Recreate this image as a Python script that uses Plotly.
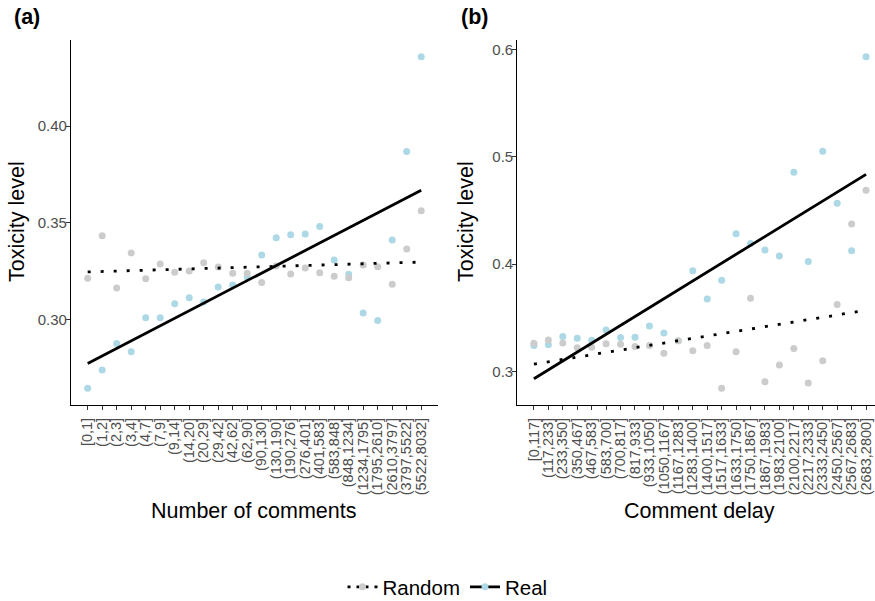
import plotly.graph_objects as go

# ---------------- data ----------------
cats_a = ["[0,1]", "(1,2]", "(2,3]", "(3,4]", "(4,7]", "(7,9]", "(9,14]", "(14,20]",
          "(20,29]", "(29,42]", "(42,62]", "(62,90]", "(90,130]", "(130,190]", "(190,276]",
          "(276,401]", "(401,583]", "(583,848]", "(848,1234]", "(1234,1795]", "(1795,2610]",
          "(2610,3797]", "(3797,5522]", "(5522,8032]"]
real_a = [0.2644, 0.2739, 0.2876, 0.2833, 0.3009, 0.3009, 0.3081, 0.3112, 0.3091, 0.3168,
          0.3179, 0.3220, 0.3333, 0.3423, 0.3438, 0.3442, 0.3481, 0.3308, 0.3234, 0.3033,
          0.2995, 0.3411, 0.3868, 0.4359]
random_a = [0.3213, 0.3433, 0.3163, 0.3344, 0.3211, 0.3287, 0.3244, 0.3251, 0.3294, 0.3272,
            0.3239, 0.3239, 0.3191, 0.3277, 0.3235, 0.3266, 0.3242, 0.3223, 0.3216, 0.3282,
            0.3273, 0.3182, 0.3364, 0.3562]
fit_real_a = [0.2773, 0.3668]     # fitted trend at first / last category
fit_random_a = [0.3246, 0.3297]

cats_b = ["[0,117]", "(117,233]", "(233,350]", "(350,467]", "(467,583]", "(583,700]",
          "(700,817]", "(817,933]", "(933,1050]", "(1050,1167]", "(1167,1283]", "(1283,1400]",
          "(1400,1517]", "(1517,1633]", "(1633,1750]", "(1750,1867]", "(1867,1983]",
          "(1983,2100]", "(2100,2217]", "(2217,2333]", "(2333,2450]", "(2450,2567]",
          "(2567,2683]", "(2683,2800]"]
real_b = [0.3242, 0.3248, 0.3325, 0.3310, 0.3291, 0.3387, 0.3316, 0.3319, 0.3424, 0.3359,
          0.3285, 0.3939, 0.3675, 0.3849, 0.4283, 0.4193, 0.4131, 0.4075, 0.4856, 0.4025,
          0.5051, 0.4568, 0.4124, 0.5934]
random_b = [0.3263, 0.3294, 0.3266, 0.3220, 0.3226, 0.3257, 0.3254, 0.3232, 0.3242, 0.3170,
            0.3285, 0.3192, 0.3242, 0.2842, 0.3183, 0.3682, 0.2904, 0.3059, 0.3214, 0.2891,
            0.3099, 0.3623, 0.4375, 0.4689]
fit_real_b = [0.2932, 0.4837]
fit_random_b = [0.3068, 0.3570]

yticks_a = [0.30, 0.35, 0.40]
yticks_b = [0.3, 0.4, 0.5, 0.6]

# ---------------- style ----------------
W, H = 875, 601
FONT = "Liberation Sans, Arial, Helvetica, sans-serif"
BLUE = "#ADD8E6"
GREY = "#CCCCCC"
TICKC = "#4D4D4D"
DOT = "3px,10px"

fig = go.Figure()

def panel(cats, real, rnd, fr, frn, xa, ya):
    xs = list(range(1, len(cats) + 1))
    ends = [xs[0], xs[-1]]
    fig.add_trace(go.Scatter(x=xs, y=real, mode="markers", xaxis=xa, yaxis=ya,
                             marker=dict(color=BLUE, size=7), showlegend=False, hoverinfo="skip"))
    fig.add_trace(go.Scatter(x=xs, y=rnd, mode="markers", xaxis=xa, yaxis=ya,
                             marker=dict(color=GREY, size=7), showlegend=False, hoverinfo="skip"))
    fig.add_trace(go.Scatter(x=ends, y=frn, mode="lines", xaxis=xa, yaxis=ya,
                             line=dict(color="black", width=2.8, dash=DOT), showlegend=False))
    fig.add_trace(go.Scatter(x=ends, y=fr, mode="lines", xaxis=xa, yaxis=ya,
                             line=dict(color="black", width=2.8), showlegend=False))
    return xs

xs_a = panel(cats_a, real_a, random_a, fit_real_a, fit_random_a, "x", "y")
xs_b = panel(cats_b, real_b, random_b, fit_real_b, fit_random_b, "x2", "y2")

# legend entries
fig.add_trace(go.Scatter(x=[None], y=[None], mode="lines+markers", name="Random",
                         line=dict(color="black", width=2.8, dash="3px,6px"),
                         marker=dict(color=GREY, size=7)))
fig.add_trace(go.Scatter(x=[None], y=[None], mode="lines+markers", name="Real",
                         line=dict(color="black", width=2.8),
                         marker=dict(color=BLUE, size=7)))

ydom = [1 - 405 / H, 1 - 40 / H]
common_x = dict(showgrid=False, zeroline=False, showline=True, linecolor="black", linewidth=1.2,
                ticks="outside", ticklen=4, tickcolor="#333333", tickwidth=1.1,
                tickangle=-90, ticklabelstandoff=2,
                tickfont=dict(family=FONT, size=14.5, color=TICKC))
common_y = dict(showgrid=False, zeroline=False, showline=True, linecolor="black", linewidth=1.2,
                ticks="outside", ticklen=4, tickcolor="#333333", tickwidth=1.1,
                ticklabelstandoff=-4,
                tickfont=dict(family=FONT, size=15, color=TICKC))

fig.update_layout(
    width=W, height=H,
    margin=dict(l=0, r=0, t=0, b=0, autoexpand=False),
    paper_bgcolor="white", plot_bgcolor="white",
    font=dict(family=FONT),
    xaxis=dict(domain=[71 / W, 437.9 / W], range=[-0.15, 25.15], tickvals=xs_a,
               ticktext=cats_a, anchor="y", **common_x),
    yaxis=dict(domain=ydom, range=[0.2558, 0.4445], tickvals=yticks_a,
               ticktext=[f"{v:.2f}" for v in yticks_a], anchor="x", **common_y),
    xaxis2=dict(domain=[517.3 / W, 1.0], range=[-0.15, 24.62], tickvals=xs_b,
                ticktext=cats_b, anchor="y2", **common_x),
    yaxis2=dict(domain=ydom, range=[0.2687, 0.6089], tickvals=yticks_b,
                ticktext=[f"{v:.1f}" for v in yticks_b], anchor="x2", **common_y),
    legend=dict(orientation="h", x=0.5 + 10 / W, xanchor="center", y=1 - 587 / H,
                yanchor="middle",
                font=dict(family=FONT, size=20.5, color="black"), itemwidth=30,
                bgcolor="rgba(0,0,0,0)"),
)

TF = dict(size=21.5, color="black", family=FONT)
ann = [
    dict(text="<b>(a)</b>", x=12 / W, y=1 - 17 / H, xanchor="left", yanchor="middle", font=TF),
    dict(text="<b>(b)</b>", x=459 / W, y=1 - 17 / H, xanchor="left", yanchor="middle", font=TF),
    dict(text="Toxicity level", x=17 / W, y=1 - 222 / H, textangle=-90,
         xanchor="center", yanchor="middle", font=TF),
    dict(text="Toxicity level", x=466 / W, y=1 - 222 / H, textangle=-90,
         xanchor="center", yanchor="middle", font=TF),
    dict(text="Number of comments", x=254 / W, y=1 - 511 / H,
         xanchor="center", yanchor="middle", font=TF),
    dict(text="Comment delay", x=699 / W, y=1 - 511 / H,
         xanchor="center", yanchor="middle", font=TF),
]
for a in ann:
    a.update(xref="paper", yref="paper", showarrow=False)
fig.update_layout(annotations=ann)

fig.write_html("out.html", config={"displayModeBar": False},
               post_script="document.body.style.margin='0';document.body.style.overflow='hidden';")
